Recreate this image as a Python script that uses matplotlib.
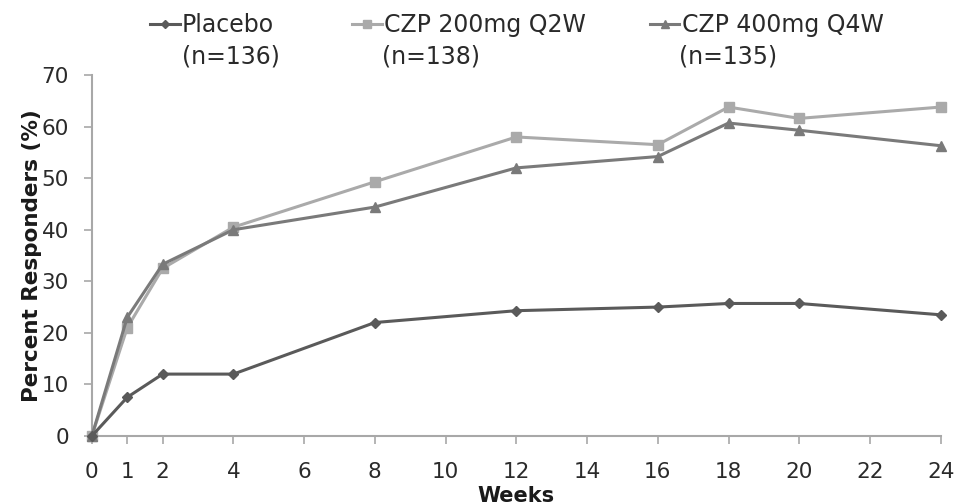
import matplotlib
matplotlib.use("Agg")
import matplotlib.pyplot as plt

weeks = [0, 1, 2, 4, 8, 12, 16, 18, 20, 24]
placebo = [0, 7.5, 12, 12, 22, 24.3, 25, 25.7, 25.7, 23.5]
czp200 = [0, 21, 32.5, 40.5, 49.3, 58, 56.5, 63.8, 61.6, 63.8]
czp400 = [0, 23, 33.3, 40, 44.4, 52, 54.2, 60.7, 59.3, 56.3]
names = ["Placebo", "CZP 200mg Q2W", "CZP 400mg Q4W"]
ns = ["(n=136)", "(n=138)", "(n=135)"]
xticks = [0, 1, 2, 4, 6, 8, 10, 12, 14, 16, 18, 20, 22, 24]
yticks = [0, 10, 20, 30, 40, 50, 60, 70]

plt.rcParams['font.family'] = ['DejaVu Sans']
fig = plt.figure(figsize=(9.57, 5.04), dpi=100)
ax = fig.add_axes([0.096, 0.135, 0.887, 0.716])

c_pl, c_200, c_400 = '#5a5a5a', '#aaaaaa', '#7a7a7a'
l200, = ax.plot(weeks, czp200, color=c_200, marker='s', ms=7.5, lw=2.2, label=names[1], zorder=2)
l400, = ax.plot(weeks, czp400, color=c_400, marker='^', ms=7.5, lw=2.2, label=names[2], zorder=3)
lpl, = ax.plot(weeks, placebo, color=c_pl, marker='D', ms=5.5, lw=2.2, label=names[0], zorder=4)

ax.set_xlim(0, 24)
ax.set_ylim(0, 70)
ax.set_xticks(xticks)
ax.set_yticks(yticks)
for s in ['top', 'right']:
    ax.spines[s].set_visible(False)
for s in ['left', 'bottom']:
    ax.spines[s].set_color('#a8a8a8')
    ax.spines[s].set_linewidth(1.5)
ax.tick_params(axis='both', colors='#a8a8a8', labelcolor='#2a2a2a', labelsize=15.5, length=5.5, width=1.2)
ax.tick_params(axis='x', pad=13)
ax.tick_params(axis='y', pad=11)
ax.set_xlabel('Weeks', fontsize=15, fontweight='bold', labelpad=3, color='#1a1a1a')
ax.set_ylabel('Percent Responders (%)', fontsize=15.5, fontweight='bold', labelpad=0, color='#1a1a1a')
for ln in ax.get_lines():
    ln.set_clip_on(False)

handle_x = [0.157, 0.368, 0.679]
text_x = [0.190, 0.399, 0.710]
for h, x in zip([lpl, l200, l400], handle_x):
    lg = fig.legend([h], [h.get_label()], loc='center left', bbox_to_anchor=(x, 0.950),
                    frameon=False, fontsize=17, handlelength=1.25, handletextpad=0.1,
                    borderpad=0, borderaxespad=0, markerscale=0.7, labelcolor='#2a2a2a')
for x, t in zip(text_x, ns):
    fig.text(x, 0.887, t, fontsize=17, ha='left', va='center', color='#2a2a2a')

fig.savefig('out.png', dpi=100)
